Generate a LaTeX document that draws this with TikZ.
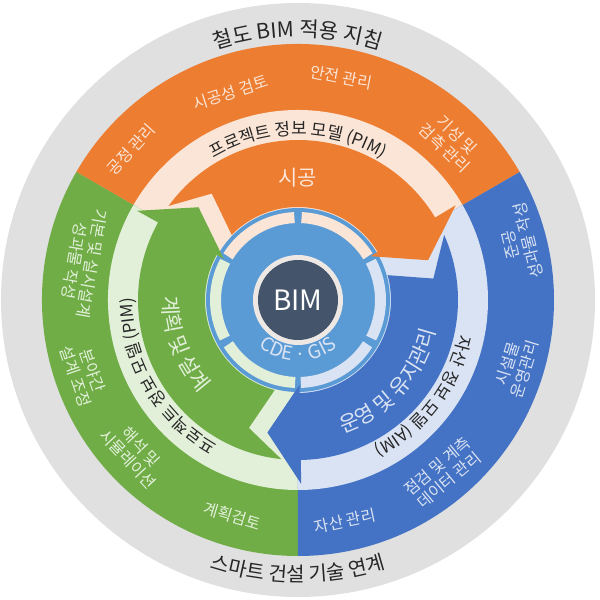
\documentclass[tikz,border=0pt]{standalone}
\usepackage{fontspec}
\setmainfont{Noto Sans CJK KR}
\usetikzlibrary{decorations.text}

\definecolor{ringgray}{HTML}{E0E0E0}
\definecolor{orng}{HTML}{ED7D31}
\definecolor{grn}{HTML}{70AD47}
\definecolor{blu}{HTML}{4472C4}
\definecolor{paleorng}{HTML}{FBE5D6}
\definecolor{palegrn}{HTML}{E2F0D9}
\definecolor{paleblu}{HTML}{DAE3F3}
\definecolor{diskblu}{HTML}{5B9BD5}
\definecolor{navy}{HTML}{44546A}
\definecolor{bimring}{HTML}{EEE8E4}
\definecolor{titlegray}{HTML}{262626}

\tikzset{ % looks used again and again
  ringlabel/.style={font=\fontsize{16}{18}\selectfont, align=center, inner sep=0pt},
  armlabel/.style={font=\fontsize{21}{23}\selectfont, inner sep=0pt},
  curvedtext/.style={decorate, decoration={text along path, text align=center, text={#1}}}
}

\begin{document}
\begin{tikzpicture}[x=1pt,y=1pt]
\useasboundingbox (-298,-300) rectangle (302,300);

% grey frame
\fill[ringgray] (0,0) circle[radius=297];

% outer sectors and their pale bands
\foreach \s/\col/\pale in {30/orng/paleorng, 150/grn/palegrn, 270/blu/paleblu}{
  \fill[\col] (0,0) -- (\s:256) arc[start angle=\s, end angle=\s+120, radius=256] -- cycle;
  \fill[\pale] (0,0) -- (\s:190) arc[start angle=\s, end angle=\s+120, radius=190] -- cycle;
}

% central disk with its pale arcs
\fill[diskblu] (0,0) circle[radius=92];
\foreach \s/\pale in {30/paleorng, 150/palegrn, 270/paleblu}{
  \draw[\pale, line width=11] (\s+2:82.5) arc[start angle=\s+2, end angle=\s+57.5, radius=82.5];
  \draw[\pale, line width=11] (\s+62.5:82.5) arc[start angle=\s+62.5, end angle=\s+118, radius=82.5];
}

% block arrows, clockwise
\foreach \a/\col in {31/orng, 151/grn, 271/blu}{
  \fill[\col] (\a+113:160) arc[start angle=\a+113, end angle=\a, radius=160]
    -- (\a:184) -- (\a-14:136) -- (\a:85) -- (\a:93)
    arc[start angle=\a, end angle=\a+104.5, radius=93]
    -- (\a+98:137) -- cycle;
}

% BIM core
\fill[bimring] (0,0) circle[radius=45];
\node[circle, fill=navy, minimum size=80, inner sep=0pt, text=white,
  font=\fontsize{28}{30}\selectfont] (bim) at (0,0) {BIM};
\path[curvedtext={|\fontsize{19}{19}\selectfont\color{paleblu}|CDE · GIS}]
  (200:61) arc[start angle=200, end angle=340, radius=61];

% titles on the grey ring
\path[curvedtext={|\fontsize{21}{21}\selectfont\color{titlegray}|철도 BIM 적용 지침}]
  (125:263) arc[start angle=125, end angle=55, radius=263];
\path[curvedtext={|\fontsize{20}{20}\selectfont\color{titlegray}|스마트 건설 기술 연계}]
  (235:282) arc[start angle=235, end angle=305, radius=282];

% model bands
\path[curvedtext={|\fontsize{17}{17}\selectfont\color{titlegray}|프로젝트 정보 모델 (PIM)}]
  (150:165) arc[start angle=150, end angle=30, radius=165];
\path[curvedtext={|\fontsize{17}{17}\selectfont\color{titlegray}|프로젝트 정보 모델 (PIM)}]
  (270:165) arc[start angle=270, end angle=150, radius=165];
\path[curvedtext={|\fontsize{17}{17}\selectfont\color{titlegray}|자산 정보 모델 (AIM)}]
  (20:165) arc[start angle=20, end angle=-95, radius=165];

% arrow labels
\node[armlabel, text=paleorng] (build) at (90:122) {시공};
\path[curvedtext={|\fontsize{21}{21}\selectfont\color{palegrn}|계획 및 설계}]
  (150:135) arc[start angle=150, end angle=252, radius=135];
\path[curvedtext={|\fontsize{21}{21}\selectfont\color{paleblu}|운영 및 유지관리}]
  (266:141) arc[start angle=266, end angle=370, radius=141];

% construction tasks
\node[ringlabel, text=paleorng, rotate=48] (sched) at (138:225) {공정 관리};
\node[ringlabel, text=paleorng, rotate=18] (review) at (108:218) {시공성 검토};
\node[ringlabel, text=paleorng, rotate=-11] (safety) at (79:227) {안전 관리};
\node[ringlabel, text=paleorng, rotate=-44] (inspect) at (46:220) {기성 및\\검측 관리};

% design tasks
\node[ringlabel, text=palegrn, rotate=-100] (deliver) at (170:218) {기본 및 실시설계\\성과물 작성};
\node[ringlabel, text=palegrn, rotate=-71] (coord) at (199:226) {분야간\\설계 조정};
\node[ringlabel, text=palegrn, rotate=-47] (simul) at (223:224) {해석 및\\시뮬레이션};
\node[ringlabel, text=palegrn, rotate=-17] (plan) at (253:226) {계획검토};

% operation tasks
\node[ringlabel, text=paleblu, rotate=12] (asset) at (282:226) {자산 관리};
\node[ringlabel, text=paleblu, rotate=40] (monitor) at (310:226) {점검 및 계측\\데이터 관리};
\node[ringlabel, text=paleblu, rotate=73] (facility) at (343:228) {시설물\\운영관리};
\node[ringlabel, text=paleblu, rotate=104] (handover) at (14.5:229) {준공\\성과물 작성};
\end{tikzpicture}
\end{document}
